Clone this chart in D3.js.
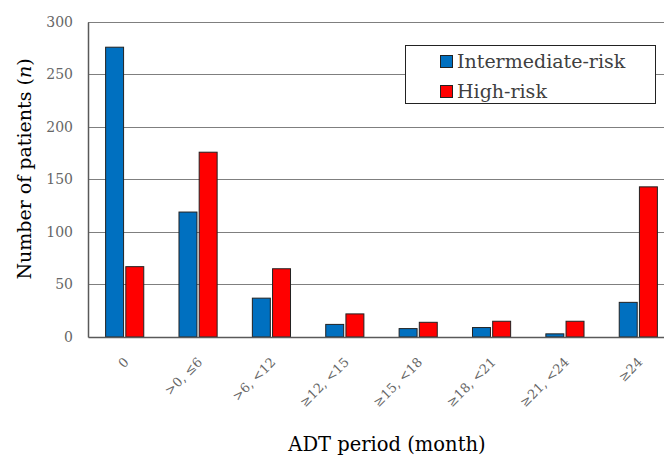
<!DOCTYPE html>
<html><head><meta charset="utf-8">
<script src="https://cdn.jsdelivr.net/npm/d3@7"></script>
<style>body{margin:0;background:#fff;} svg{display:block;}</style>
</head><body>
<svg id="chart" width="664" height="457"></svg>
<script>
const categories = ["0", ">0, \u22646", ">6, <12", "\u226512, <15", "\u226515, <18", "\u226518, <21", "\u226521, <24", "\u226524"];
const seriesNames = ["Intermediate-risk", "High-risk"];
const intermediateRisk = [276, 119, 37, 12, 8, 9, 3, 33];
const highRisk = [67, 176, 65, 22, 14, 15, 15, 143];
const yTicks = [0, 50, 100, 150, 200, 250, 300];
const colors = ["#0070c0", "#ff0000"];

(function () {
const svg = d3.select("#chart");
const font = "'DejaVu Serif', serif";
const mLeft = 88, mRight = 675, mTop = 22, mBottom = 337;

const x = d3.scaleBand().domain(categories).range([mLeft, mRight]).paddingInner(0.48).paddingOuter(0.24);
const xs = d3.scaleBand().domain(seriesNames).range([0, x.bandwidth()]).paddingInner(0.11);
const y = d3.scaleLinear().domain([0, 300]).range([mBottom, mTop]);

// gridlines
svg.append("g").selectAll("line").data(yTicks.filter(d => d > 0)).join("line")
  .attr("x1", mLeft).attr("x2", mRight)
  .attr("y1", d => y(d)).attr("y2", d => y(d))
  .attr("stroke", "#7f7f7f").attr("stroke-width", 1).attr("shape-rendering", "crispEdges");

// y axis
const yAxis = svg.append("g").attr("transform", `translate(${mLeft},0)`)
  .call(d3.axisLeft(y).tickValues(yTicks).tickSize(0).tickPadding(15));
yAxis.select(".domain").attr("stroke", "#595959").attr("stroke-width", 1.5);
yAxis.selectAll("text").attr("font-family", font).attr("font-size", 14).attr("fill", "#666");

// bars
const series = [intermediateRisk, highRisk];
const groups = svg.append("g").selectAll("g").data(categories).join("g")
  .attr("transform", d => `translate(${x(d)},0)`);
groups.selectAll("rect").data((c, i) => series.map((s, k) => ({name: seriesNames[k], v: s[i], k})))
  .join("rect")
  .attr("x", d => xs(d.name)).attr("width", xs.bandwidth())
  .attr("y", d => y(d.v)).attr("height", d => y(0) - y(d.v))
  .attr("fill", d => colors[d.k]).attr("stroke", "#222").attr("stroke-width", 1);

// x axis
const xAxis = svg.append("g").attr("transform", `translate(0,${mBottom})`)
  .call(d3.axisBottom(x).tickSize(0).tickPadding(0));
xAxis.select(".domain").attr("stroke", "#595959").attr("stroke-width", 1.5);
xAxis.selectAll("text").attr("font-family", font).attr("font-size", 13).attr("fill", "#666")
  .attr("text-anchor", "end").attr("dy", 0)
  .attr("transform", "translate(5,26) rotate(-45)");

// axis titles
svg.append("text").attr("x", 387).attr("y", 451).attr("text-anchor", "middle")
  .attr("font-family", font).attr("font-size", 19.5).attr("fill", "#000").text("ADT period (month)");
const yt = svg.append("text").attr("transform", "translate(31,169) rotate(-90)").attr("text-anchor", "middle")
  .attr("font-family", font).attr("font-size", 19).attr("fill", "#000");
yt.append("tspan").text("Number of patients (");
yt.append("tspan").attr("font-style", "italic").text("n");
yt.append("tspan").text(")");

// legend
const lg = svg.append("g");
lg.append("rect").attr("x", 405.5).attr("y", 45.5).attr("width", 250).attr("height", 58)
  .attr("fill", "#fff").attr("stroke", "#222").attr("stroke-width", 1);
seriesNames.forEach((n, i) => {
  lg.append("rect").attr("x", 440.5).attr("y", 55.5 + i * 30).attr("width", 12).attr("height", 12)
    .attr("fill", colors[i]).attr("stroke", "#222");
  lg.append("text").attr("x", 457).attr("y", 67.5 + i * 30).attr("font-family", font).attr("font-size", 19)
    .attr("fill", "#404040").text(n);
});
})();
</script>
</body></html>
